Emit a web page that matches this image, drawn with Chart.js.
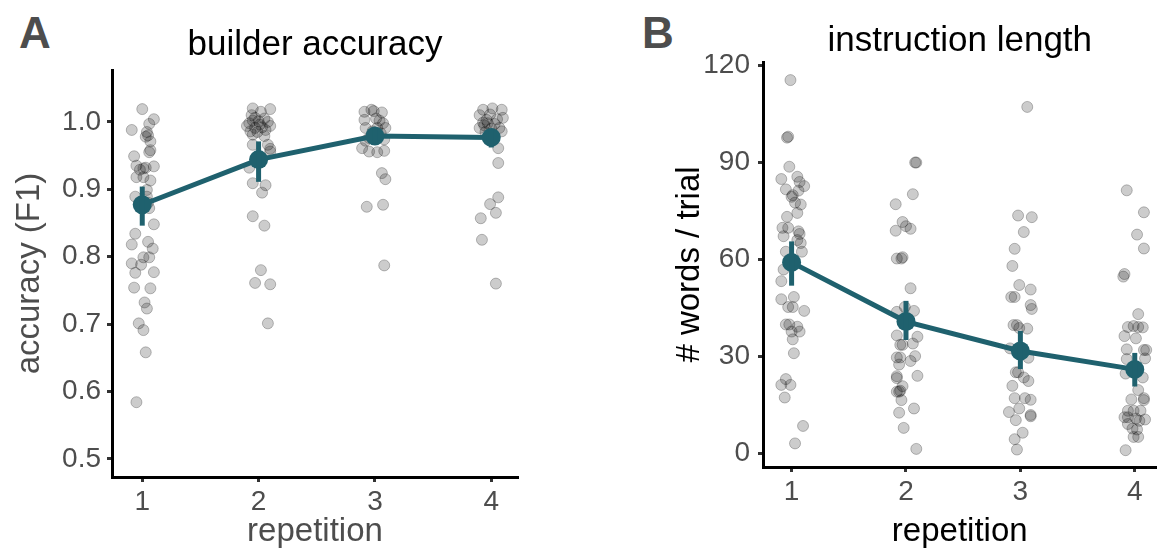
<!DOCTYPE html>
<html>
<head>
<meta charset="utf-8">
<script src="https://cdn.jsdelivr.net/npm/chart.js@4.4.1/dist/chart.umd.min.js"></script>
<style>
  body { margin: 0; background: #fff; width: 1166px; height: 550px; position: relative; overflow: hidden; font-family: "Liberation Sans", Arial, sans-serif; }
  .panel { position: absolute; top: 0; height: 550px; }
  #wrapA { left: 0; width: 580px; }
  #wrapB { left: 580px; width: 586px; }
  .tag { position: absolute; top: 8px; font-weight: bold; font-size: 44px; color: #4d4d4d; }
</style>
</head>
<body>
<div class="tag" style="left:19px">A</div>
<div class="tag" style="left:642px">B</div>
<div class="panel" id="wrapA"><canvas id="chartA" width="580" height="550"></canvas></div>
<div class="panel" id="wrapB"><canvas id="chartB" width="586" height="550"></canvas></div>
<script>
// x positions of the repetitions
const repetitions = [1, 2, 3, 4];

// panel A: builder accuracy, single games [repetition + jitter, F1]
const accRep1 = [[1.00,1.019],[0.91,0.988],[1.10,1.004],[1.06,0.997],[1.04,0.985],[1.05,0.980],[1.03,0.978],[1.07,0.971],[1.07,0.958],[1.06,0.955],[0.93,0.949],[0.95,0.935],[0.98,0.929],[1.01,0.931],[1.03,0.932],[1.10,0.934],[0.95,0.918],[1.01,0.918],[1.07,0.913],[1.04,0.899],[0.94,0.889],[1.04,0.889],[0.97,0.878],[1.05,0.880],[1.06,0.872],[1.10,0.848],[0.94,0.834],[0.91,0.818],[1.05,0.822],[1.09,0.812],[1.01,0.799],[1.06,0.799],[0.91,0.790],[0.99,0.788],[0.94,0.776],[1.10,0.777],[0.93,0.754],[1.07,0.753],[1.02,0.732],[1.04,0.723],[0.97,0.701],[1.01,0.691],[1.03,0.658],[0.95,0.584]];
const accRep2 = [[1.95,1.020],[2.10,1.019],[2.02,1.015],[1.97,1.006],[2.05,1.005],[1.92,0.998],[1.95,1.002],[2.00,1.001],[2.08,1.000],[2.10,0.994],[1.90,0.994],[1.97,0.991],[2.03,0.992],[2.06,0.988],[1.93,0.986],[1.99,0.985],[1.95,0.981],[2.05,0.979],[2.01,0.996],[1.94,1.010],[1.95,0.966],[2.08,0.966],[2.10,0.960],[2.10,0.956],[1.92,0.932],[1.95,0.909],[2.06,0.906],[2.03,0.895],[1.95,0.860],[2.05,0.846],[2.02,0.780],[1.97,0.761],[2.10,0.759],[2.08,0.701]];
const accRep3 = [[2.91,1.015],[2.97,1.018],[2.99,1.016],[3.06,1.014],[2.91,1.003],[3.01,1.005],[3.04,1.002],[3.07,0.998],[2.92,0.991],[3.02,0.991],[3.09,0.991],[2.98,0.986],[3.05,0.983],[3.01,0.981],[2.95,0.976],[3.08,0.974],[2.92,0.972],[2.89,0.961],[2.95,0.956],[3.02,0.955],[3.08,0.957],[3.06,0.924],[3.09,0.915],[2.93,0.874],[3.07,0.877],[3.08,0.787]];
const accRep4 = [[3.93,1.018],[4.01,1.020],[4.09,1.018],[3.90,1.010],[3.99,1.011],[4.10,1.006],[3.93,0.999],[3.97,0.998],[4.03,0.997],[3.90,0.991],[4.07,0.991],[4.09,0.986],[3.94,0.995],[3.96,1.003],[4.05,1.004],[3.95,0.985],[4.00,0.990],[4.06,0.961],[4.06,0.939],[4.06,0.888],[3.99,0.878],[4.04,0.865],[3.91,0.857],[3.92,0.825],[4.04,0.760]];
const accMean = [0.877, 0.944, 0.979, 0.977];
const accLow  = [0.846, 0.911, 0.968, 0.962];
const accHigh = [0.904, 0.971, 0.990, 0.990];
const accTicks = [0.5, 0.6, 0.7, 0.8, 0.9, 1.0];

// panel B: instruction length, single games [repetition + jitter, words per trial]
const lenRep1 = [[0.99,115.4],[0.96,97.6],[0.97,97.9],[0.98,88.6],[0.91,84.8],[1.05,85.5],[1.07,83.9],[1.11,82.6],[0.95,81.6],[1.06,81.2],[1.01,79.8],[1.00,79.3],[1.03,77.5],[1.08,76.9],[1.05,74.3],[0.96,73.1],[0.92,69.7],[0.97,69.7],[1.06,68.6],[1.07,67.8],[0.93,67.1],[1.05,65.9],[1.08,65.0],[0.95,62.3],[1.09,62.3],[0.93,56.8],[0.91,53.2],[1.02,48.3],[0.91,47.6],[0.97,45.2],[1.01,45.2],[1.11,44.0],[0.95,39.8],[0.98,39.8],[1.05,39.1],[1.00,37.6],[1.07,37.6],[1.01,35.2],[1.02,30.9],[0.95,22.9],[0.91,21.1],[0.99,21.1],[0.94,17.2],[1.10,8.4],[1.03,3.0]];
const lenRep2 = [[2.08,89.9],[2.09,89.9],[2.06,80.1],[1.91,77.0],[1.97,71.5],[2.00,70.2],[2.04,69.4],[1.91,68.8],[1.92,60.2],[1.96,60.2],[1.97,60.6],[2.04,51.0],[1.92,43.7],[2.07,44.0],[1.99,45.2],[2.02,41.5],[1.92,36.4],[2.10,36.0],[2.06,33.9],[1.95,33.5],[1.97,33.5],[2.08,30.0],[1.92,29.6],[1.95,29.6],[2.04,28.5],[1.94,27.4],[2.10,23.9],[1.92,23.2],[1.92,23.8],[1.97,20.7],[1.92,19.0],[1.94,19.0],[1.95,19.3],[1.96,16.4],[2.07,13.8],[1.94,12.5],[1.98,7.8],[2.09,1.3]];
const lenRep3 = [[3.06,107.1],[2.98,73.5],[3.10,73.0],[3.03,68.4],[2.95,63.2],[2.93,57.9],[2.99,52.0],[3.09,50.6],[2.92,48.3],[2.95,48.3],[3.09,45.8],[3.10,44.6],[2.94,39.6],[2.97,39.6],[3.06,38.5],[2.99,38.7],[2.91,32.4],[3.07,29.5],[2.96,25.0],[2.98,25.0],[3.03,23.4],[3.07,22.3],[2.93,20.8],[2.95,17.0],[3.04,17.0],[3.09,16.5],[2.99,13.8],[2.90,12.7],[2.96,10.2],[3.09,11.4],[3.09,11.8],[3.02,6.3],[2.95,4.3],[2.97,1.1]];
const lenRep4 = [[3.93,81.3],[4.08,74.5],[4.02,67.6],[4.08,63.3],[3.91,55.4],[3.90,54.6],[4.03,43.0],[3.94,39.0],[3.99,39.3],[4.03,39.0],[4.07,38.9],[3.91,36.2],[4.01,35.5],[3.93,32.1],[4.08,31.9],[4.10,31.9],[3.93,29.1],[4.09,29.3],[3.92,24.6],[4.07,23.4],[4.03,19.5],[3.97,16.6],[4.08,17.0],[4.08,16.4],[3.94,13.1],[3.99,13.1],[4.05,13.1],[3.91,11.1],[3.94,11.1],[4.01,10.7],[4.09,10.4],[4.04,10.0],[3.94,9.0],[3.98,7.6],[4.02,7.3],[3.99,5.0],[4.03,5.0],[3.92,0.9]];
const lenMean = [59.0, 40.7, 31.6, 25.9];
const lenLow  = [51.8, 35.0, 26.0, 20.6];
const lenHigh = [65.5, 47.1, 37.8, 31.0];
const lenTicks = [0, 30, 60, 90, 120];

const teal = '#1f616e';
const greyText = '#4d4d4d';
const FONT = '"Liberation Sans", Arial, sans-serif';

const errorBars = {
  id: 'errorBars',
  afterDatasetsDraw(chart, args, opts) {
    const { ctx, scales: { x, y } } = chart;
    ctx.save();
    ctx.strokeStyle = teal;
    ctx.lineWidth = 5;
    repetitions.forEach((r, i) => {
      const px = x.getPixelForValue(r);
      ctx.beginPath();
      ctx.moveTo(px, y.getPixelForValue(opts.low[i]));
      ctx.lineTo(px, y.getPixelForValue(opts.high[i]));
      ctx.stroke();
    });
    ctx.restore();
  }
};

function makeChart(id, cfg) {
  const points = cfg.reps.flat().map(p => ({ x: p[0], y: p[1] }));
  const means = repetitions.map((r, i) => ({ x: r, y: cfg.mean[i] }));
  return new Chart(document.getElementById(id), {
    data: {
      datasets: [
        {
          type: 'line',
          data: means,
          borderColor: teal,
          backgroundColor: teal,
          borderWidth: 5,
          pointRadius: 9.5,
          pointBorderWidth: 0,
          order: 0
        },
        {
          type: 'scatter',
          data: points,
          backgroundColor: 'rgba(0,0,0,0.2)',
          borderColor: 'rgba(0,0,0,0.25)',
          borderWidth: 1,
          pointRadius: 5.5,
          order: 1
        }
      ]
    },
    options: {
      responsive: false,
      animation: false,
      events: [],
      layout: { padding: { left: 0, right: cfg.padRight, top: 0, bottom: 0 } },
      plugins: {
        legend: { display: false },
        tooltip: { enabled: false },
        title: {
          display: true,
          text: cfg.title,
          color: '#000',
          fullSize: false,
          font: { family: FONT, size: 35, weight: 'normal', lineHeight: 1.2 },
          padding: cfg.titlePad
        },
        errorBars: { low: cfg.low, high: cfg.high }
      },
      scales: {
        x: {
          type: 'linear',
          min: cfg.xMin,
          max: cfg.xMax,
          afterBuildTicks: s => { s.ticks = repetitions.map(v => ({ value: v })); },
          afterFit: s => { s.height = cfg.xHeight; },
          border: { display: true, color: '#000', width: 3 },
          grid: { drawOnChartArea: false, tickLength: 5, tickWidth: 3, tickColor: '#333' },
          ticks: { color: greyText, padding: 3, font: { family: FONT, size: 28 } },
          title: {
            display: true, text: 'repetition', color: cfg.titleColor,
            font: { family: FONT, size: 33, lineHeight: 1 }, padding: { top: 0, bottom: 2 }
          }
        },
        y: {
          type: 'linear',
          min: cfg.yMin,
          max: cfg.yMax,
          afterBuildTicks: s => { s.ticks = cfg.ticks.map(v => ({ value: v })); },
          afterFit: s => { s.width = cfg.yWidth; },
          border: { display: true, color: '#000', width: 3 },
          grid: { drawOnChartArea: false, tickLength: 5, tickWidth: 3, tickColor: '#333' },
          ticks: { color: greyText, padding: cfg.tickPad, font: { family: FONT, size: 28 }, callback: cfg.fmt },
          title: {
            display: true, text: cfg.yTitle, color: cfg.titleColor,
            font: { family: FONT, size: 33, lineHeight: 1 }, padding: { top: cfg.yTitlePad, bottom: 0 }
          }
        }
      }
    },
    plugins: [errorBars]
  });
}

makeChart('chartA', {
  title: 'builder accuracy', yTitle: 'accuracy (F1)', titleColor: greyText,
  reps: [accRep1, accRep2, accRep3, accRep4], mean: accMean, low: accLow, high: accHigh,
  ticks: accTicks, fmt: v => v.toFixed(1),
  xMin: 0.74, xMax: 4.23, yMin: 0.473, yMax: 1.077,
  yWidth: 112, xHeight: 73, padRight: 62, tickPad: 6, yTitlePad: 13,
  titlePad: { top: 24, bottom: 4 }
});

makeChart('chartB', {
  title: 'instruction length', yTitle: '# words / trial', titleColor: '#000',
  reps: [lenRep1, lenRep2, lenRep3, lenRep4], mean: lenMean, low: lenLow, high: lenHigh,
  ticks: lenTicks, fmt: v => String(v),
  xMin: 0.75, xMax: 4.19, yMin: -4.3, yMax: 121,
  yWidth: 183, xHeight: 83, padRight: 3, tickPad: 8, yTitlePad: 93,
  titlePad: { top: 20, bottom: 0 }
});
</script>
</body>
</html>
